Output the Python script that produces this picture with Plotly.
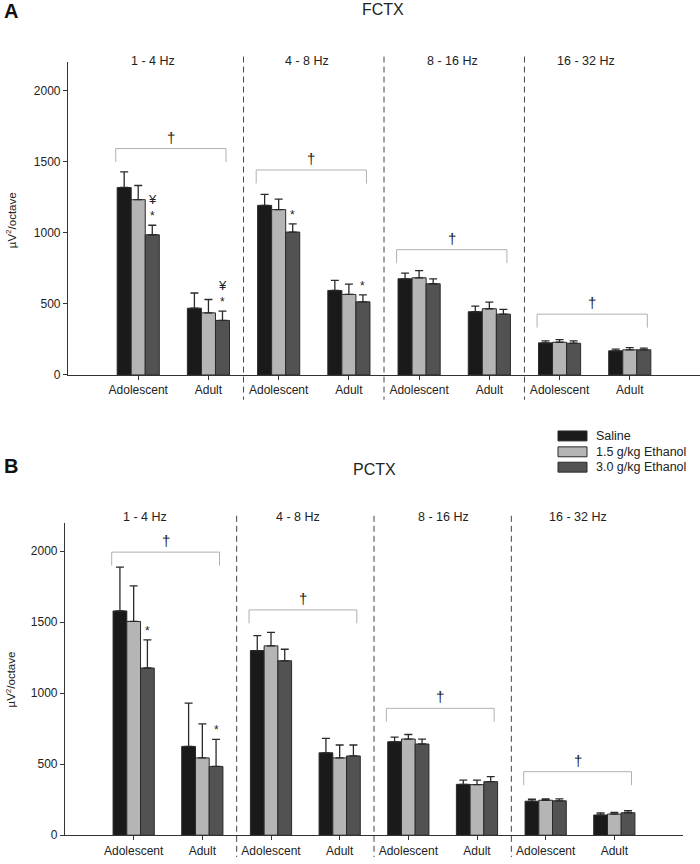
import plotly.graph_objects as go

# ---------------- data ----------------
groups = ["Adolescent", "Adult"] * 4
bands = ["1 - 4 Hz", "4 - 8 Hz", "8 - 16 Hz", "16 - 32 Hz"]
positions = [1, 2, 3, 4, 5, 6, 7, 8]
treatments = ["Saline", "1.5 g/kg Ethanol", "3.0 g/kg Ethanol"]

fctx_saline = [1320, 470, 1194, 595, 677, 445, 226, 170]
fctx_saline_err = [110, 107, 77, 71, 40, 39, 14, 12]
fctx_eth15 = [1234, 437, 1164, 567, 684, 466, 230, 177]
fctx_eth15_err = [100, 94, 74, 72, 51, 46, 19, 16]
fctx_eth30 = [987, 384, 1006, 515, 642, 428, 223, 177]
fctx_eth30_err = [67, 65, 58, 49, 35, 33, 17, 12]

pctx_saline = [1579, 625, 1300, 580, 658, 358, 239, 142]
pctx_saline_err = [309, 305, 105, 101, 33, 30, 14, 14]
pctx_eth15 = [1505, 544, 1333, 544, 677, 356, 246, 149]
pctx_eth15_err = [251, 240, 95, 91, 32, 32, 10, 11]
pctx_eth30 = [1177, 484, 1228, 558, 642, 377, 242, 158]
pctx_eth30_err = [198, 190, 81, 77, 35, 35, 14, 14]

fctx_bracket = [1594, 1443, 882, 428]
pctx_bracket = [1993, 1586, 893, 447]

# significance marks on the 3.0 g/kg bars: (index, labels bottom->top)
fctx_marks = {0: ["*", "¥"], 1: ["*", "¥"], 2: ["*"], 3: ["*"]}
pctx_marks = {0: ["*"], 1: ["*"]}

y_ticks = [0, 500, 1000, 1500, 2000]

# ---------------- style ----------------
colors = ["#1a1a1a", "#b5b5b5", "#525252"]
FONT = "Arial, Liberation Sans, Helvetica, sans-serif"
W, H = 700, 864

fig = go.Figure()

panels = [
    dict(xa="x", ya="y", data=[(fctx_saline, fctx_saline_err), (fctx_eth15, fctx_eth15_err), (fctx_eth30, fctx_eth30_err)],
         brackets=fctx_bracket, marks=fctx_marks),
    dict(xa="x2", ya="y2", data=[(pctx_saline, pctx_saline_err), (pctx_eth15, pctx_eth15_err), (pctx_eth30, pctx_eth30_err)],
         brackets=pctx_bracket, marks=pctx_marks),
]

for pi, p in enumerate(panels):
    for ti, (vals, errs) in enumerate(p["data"]):
        fig.add_trace(go.Bar(
            x=positions, y=vals, name=treatments[ti], xaxis=p["xa"], yaxis=p["ya"],
            marker=dict(color=colors[ti], line=dict(color="#2a2a2a", width=1)),
            error_y=dict(type="data", array=errs, arrayminus=[0] * len(errs), symmetric=False,
                         color="#2a2a2a", thickness=1.3, width=4),
            showlegend=False, offsetgroup=str(ti),
        ))

# pixel helpers
def px_x(px):
    return px / W

def px_y(py):
    return 1 - py / H

# panel geometry (pixels)
A = dict(x0=68, x1=700, ytop=63, ybot=378)
B = dict(x0=65, x1=683, ytop=527, ybot=842)

axis_common = dict(showline=True, linecolor="#333", linewidth=1.2, ticks="outside", ticklen=4,
                   tickcolor="#333", showgrid=False, zeroline=False,
                   tickfont=dict(family=FONT, size=12, color="#222"))

fig.update_layout(
    width=W, height=H, margin=dict(l=0, r=0, t=0, b=0),
    plot_bgcolor="white", paper_bgcolor="white",
    barmode="group", bargap=0.4, bargroupgap=0,
    showlegend=False,
    xaxis=dict(domain=[px_x(A["x0"]), px_x(A["x1"])], range=[0, 9], anchor="y",
               tickvals=positions, ticktext=groups, **axis_common),
    yaxis=dict(domain=[px_y(A["ybot"]), px_y(A["ytop"])], range=[0, 2200], anchor="x",
               tickvals=y_ticks, **axis_common),
    xaxis2=dict(domain=[px_x(B["x0"]), px_x(B["x1"])], range=[0, 9], anchor="y2",
                tickvals=positions, ticktext=groups, **axis_common),
    yaxis2=dict(domain=[px_y(B["ybot"]), px_y(B["ytop"])], range=[0, 2200], anchor="x2",
                tickvals=y_ticks, **axis_common),
)

shapes = []
annots = []

# dashed separators
for xa, top, bot in [("x", 57, 403), ("x2", 520, 864)]:
    for xv in [2.5, 4.5, 6.5]:
        shapes.append(dict(type="line", xref=xa, yref="paper", x0=xv, x1=xv,
                           y0=px_y(top), y1=px_y(bot),
                           line=dict(color="#444", width=1, dash="6px,4px")))

# brackets + daggers
for p in panels:
    xa, ya = p["xa"], p["ya"]
    for bi, lvl in enumerate(p["brackets"]):
        xl = positions[2 * bi] - 0.32
        xr = positions[2 * bi + 1] + 0.25
        drop = 95
        lc = dict(color="#b0b0b0", width=1)
        shapes.append(dict(type="line", xref=xa, yref=ya, x0=xl, x1=xr, y0=lvl, y1=lvl, line=lc))
        shapes.append(dict(type="line", xref=xa, yref=ya, x0=xl, x1=xl, y0=lvl, y1=lvl - drop, line=lc))
        shapes.append(dict(type="line", xref=xa, yref=ya, x0=xr, x1=xr, y0=lvl, y1=lvl - drop, line=lc))
        annots.append(dict(xref=xa, yref=ya, x=(xl + xr) / 2, y=lvl, text="†", showarrow=False,
                           yanchor="bottom", yshift=1,
                           font=dict(family="Liberation Sans, Arial", size=15, color="#222")))
    # significance marks
    vals, errs = p["data"][2]
    for idx, labels in p["marks"].items():
        top = vals[idx] + errs[idx]
        for li, lab in enumerate(labels):
            annots.append(dict(xref=xa, yref=ya, x=positions[idx] + 0.2, y=top, text=lab,
                               showarrow=False, yanchor="middle", yshift=9 + 17 * li,
                               font=dict(family=FONT, size=13 if lab == "¥" else 12, color="#222")))

# band labels
band_x_A = [1.21, 3.41, 5.47, 7.37]
band_x_B = [1.16, 3.40, 5.51, 7.47]
for bi, b in enumerate(bands):
    annots.append(dict(xref="x", yref="paper", x=band_x_A[bi], y=px_y(62), text=b, showarrow=False,
                       yanchor="middle", font=dict(family=FONT, size=12.5, color="#222")))
    annots.append(dict(xref="x2", yref="paper", x=band_x_B[bi], y=px_y(521), text=b, showarrow=False,
                       yanchor="middle", font=dict(family=FONT, size=12.5, color="#222")))

# y axis titles
for ycen in [222, 685]:
    annots.append(dict(xref="paper", yref="paper", x=px_x(11), y=px_y(ycen), text="µV<sup>2</sup>/octave",
                       showarrow=False, textangle=-90, xanchor="center", yanchor="middle",
                       font=dict(family=FONT, size=11.5, color="#222")))

# panel letters and titles
annots.append(dict(xref="paper", yref="paper", x=px_x(2), y=px_y(11), text="<b>A</b>", showarrow=False,
                   xanchor="left", yanchor="middle", font=dict(family=FONT, size=20, color="#111")))
annots.append(dict(xref="paper", yref="paper", x=px_x(2), y=px_y(470), text="<b>B</b>", showarrow=False,
                   xanchor="left", yanchor="middle", font=dict(family=FONT, size=20, color="#111")))
annots.append(dict(xref="paper", yref="paper", x=px_x(383), y=px_y(10), text="FCTX", showarrow=False,
                   xanchor="center", yanchor="middle", font=dict(family=FONT, size=16, color="#222")))
annots.append(dict(xref="paper", yref="paper", x=px_x(374), y=px_y(473), text="PCTX", showarrow=False,
                   xanchor="center", yanchor="middle", font=dict(family=FONT, size=16, color="#222")))

# legend (drawn)
leg_rows = [439.5, 455.5, 471]
for ti, name in enumerate(treatments):
    yc = leg_rows[ti]
    shapes.append(dict(type="rect", xref="paper", yref="paper", x0=px_x(558), x1=px_x(587),
                       y0=px_y(yc + 5), y1=px_y(yc - 5), fillcolor=colors[ti],
                       line=dict(color="#2a2a2a", width=1)))
    annots.append(dict(xref="paper", yref="paper", x=px_x(594), y=px_y(yc), text=name, showarrow=False,
                       xanchor="left", yanchor="middle", font=dict(family=FONT, size=12.5, color="#222")))

fig.update_layout(shapes=shapes, annotations=annots)
fig.write_html("out.html", config={"displayModeBar": False},
               post_script="document.body.style.margin='0';document.body.style.overflow='hidden';")
